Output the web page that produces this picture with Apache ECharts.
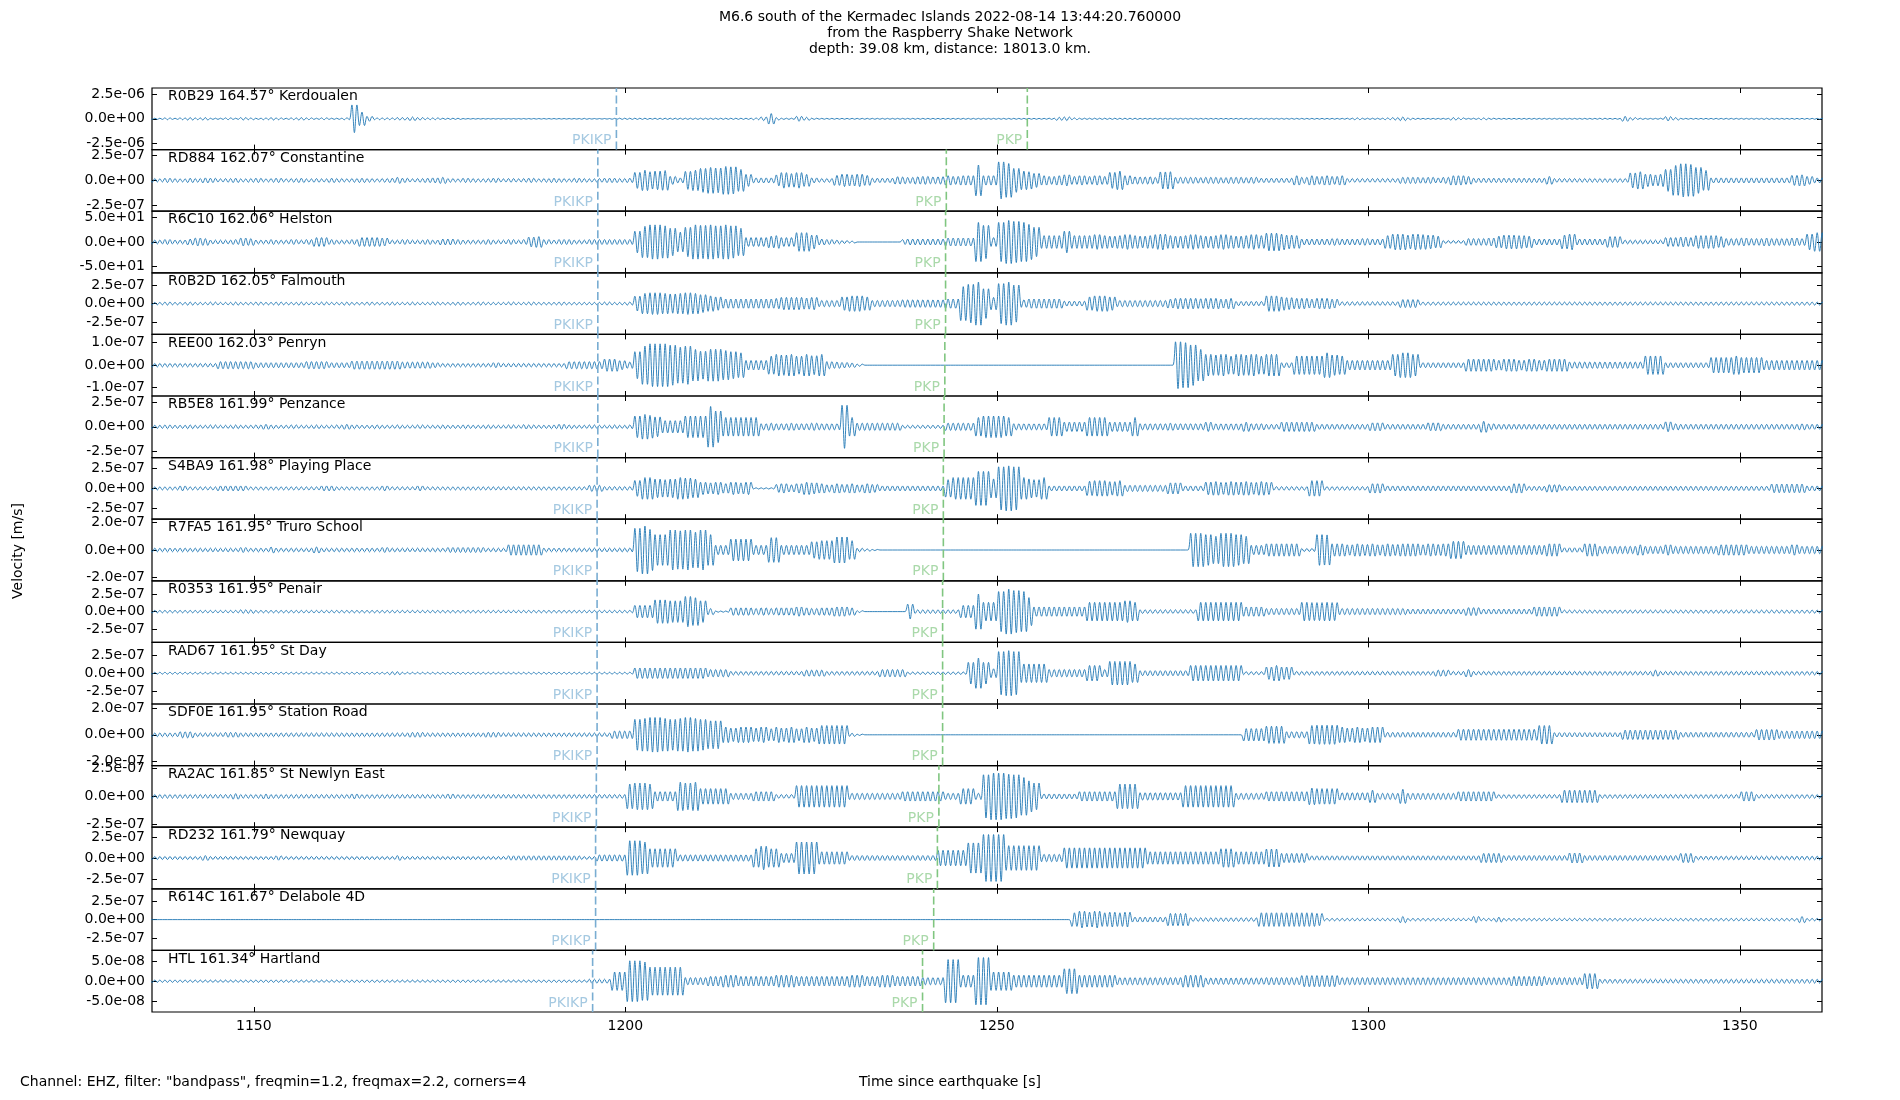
<!DOCTYPE html>
<html>
<head>
<meta charset="utf-8">
<title>M6.6 Kermadec Islands - Raspberry Shake record section</title>
<script src="https://cdn.jsdelivr.net/npm/echarts@6.0.0/dist/echarts.min.js"></script>
<style>
  html, body { margin: 0; padding: 0; background: #fff; }
  #main { width: 1900px; height: 1100px; }
</style>
</head>
<body>
<div id="main"></div>
<script>
// ---- stations, top to bottom ----
const stations = ['R0B29', 'RD884', 'R6C10', 'R0B2D', 'REE00', 'RB5E8', 'S4BA9', 'R7FA5',
                  'R0353', 'RAD67', 'SDF0E', 'RA2AC', 'RD232', 'R614C', 'HTL'];
const distances = ['164.57', '162.07', '162.06', '162.05', '162.03', '161.99', '161.98', '161.95',
                   '161.95', '161.95', '161.95', '161.85', '161.79', '161.67', '161.34'];
const places = ['Kerdoualen', 'Constantine', 'Helston', 'Falmouth', 'Penryn', 'Penzance', 'Playing Place',
                'Truro School', 'Penair', 'St Day', 'Station Road', 'St Newlyn East', 'Newquay',
                'Delabole 4D', 'Hartland'];

// y tick step (labels at -step, 0, +step) and half range of each panel
const tickSteps = [2.5e-6, 2.5e-7, 50, 2.5e-7, 1e-7, 2.5e-7, 2.5e-7, 2e-7,
                   2.5e-7, 2.5e-7, 2e-7, 2.5e-7, 2.5e-7, 2.5e-7, 5e-8];
const yLimits = [3.2e-6, 3.1e-7, 63, 4.16e-7, 1.37e-7, 3.12e-7, 3.9e-7, 2.25e-7,
                 4.4e-7, 4.2e-7, 2.3e-7, 2.78e-7, 3.68e-7, 4.17e-7, 7.7e-8];
// amplitude arrays are in nm/s, R6C10 in raw counts
const units = [1e-9, 1e-9, 1, 1e-9, 1e-9, 1e-9, 1e-9, 1e-9,
               1e-9, 1e-9, 1e-9, 1e-9, 1e-9, 1e-9, 1e-9];

// predicted arrivals [s]
const pkikp = [1198.8, 1196.3, 1196.3, 1196.3, 1196.3, 1196.3, 1196.2, 1196.2,
               1196.2, 1196.2, 1196.2, 1196.1, 1196.0, 1196.0, 1195.6];
const pkp = [1254.1, 1243.2, 1243.1, 1243.1, 1243.0, 1242.9, 1242.8, 1242.8,
             1242.7, 1242.7, 1242.7, 1242.2, 1242.0, 1241.5, 1240.0];

const xTicks = [1150, 1200, 1250, 1300, 1350];
const xMin = 1136.3, xMax = 1361.05;

// peak amplitude seen in each one second bin, first bin starts at 1136 s
const binStart = 1136;
const halfCycle = 0.34; // s between successive peaks, ~1.5 Hz (filter band 1.2-2.2 Hz)

const ampR0B29 = [
  64,64,96,64,96,128,96,128,64,64,
  96,64,128,96,64,96,128,96,64,96,
  128,96,64,96,64,64,96,1440,700,256,
  96,96,96,128,128,192,128,96,96,64,
  64,64,32,32,32,32,32,32,32,32,
  32,32,32,32,32,32,32,32,48,32,
  32,32,48,64,64,64,64,48,64,64,
  64,64,64,64,64,64,64,64,64,64,
  64,96,192,544,128,64,64,256,160,64,
  48,48,48,48,48,48,48,48,48,48,
  48,48,48,48,48,48,48,48,48,48,
  48,48,48,48,48,48,48,48,48,48,
  48,64,160,192,96,64,64,64,64,64,
  64,64,64,48,48,48,48,48,48,48,
  48,48,48,48,48,48,48,48,48,48,
  48,48,48,48,48,48,48,48,48,48,
  48,64,96,64,64,64,96,128,192,96,
  64,48,48,48,48,128,96,48,64,96,
  64,48,48,48,48,48,48,48,48,48,
  48,48,48,48,48,64,48,48,256,128,
  64,48,48,64,224,128,48,48,48,48,
  48,48,48,48,48,48,48,64,48,48,
  48,48,48,48,48,48];

const ampRD884 = [
  19,16,22,19,16,22,19,25,22,16,
  19,22,16,19,22,16,19,22,16,19,
  22,16,19,16,22,19,16,19,22,19,
  16,19,22,31,22,16,19,22,25,31,
  19,16,22,19,16,19,22,16,19,16,
  19,22,16,19,22,19,16,22,19,16,
  19,22,22,19,22,80,102,87,93,99,
  40,25,90,102,120,130,124,140,136,110,
  60,25,25,25,55,78,68,78,60,25,
  19,19,50,62,56,62,50,22,22,22,
  37,34,30,37,40,34,37,47,40,47,
  47,155,47,47,186,170,120,93,87,70,
  47,40,47,56,40,47,40,47,40,80,
  93,47,37,34,37,30,85,87,31,31,
  31,28,31,31,28,31,31,28,31,22,
  22,22,22,22,47,31,47,40,47,40,
  47,19,19,19,19,19,19,19,31,31,
  31,28,31,25,31,47,47,40,22,22,
  22,22,22,22,22,22,22,22,40,19,
  19,19,19,19,19,19,19,19,19,75,
  87,62,55,62,110,150,167,160,130,100,
  25,25,25,25,25,25,25,25,25,25,
  25,50,56,40,25,25];

const ampR6C10 = [
  4,4,5,4,4,6,8,7,4,4,
  4,5,8,7,4,4,5,4,4,5,
  4,5,9,9,5,4,4,5,9,9,
  9,8,4,4,5,4,4,5,4,6,
  6,5,4,4,4,5,4,4,5,4,
  5,10,11,5,4,5,5,4,4,5,
  5,5,5,5,5,22,32,35,35,33,
  28,20,30,35,34,35,33,35,33,28,
  9,9,9,12,13,9,9,19,19,14,
  6,5,4,3,2,0,0,0,0,0,
  0,5,6,6,6,6,6,8,8,8,
  8,40,34,9,40,44,42,40,36,30,
  13,13,13,22,13,13,13,15,13,12,
  13,15,13,12,13,15,16,13,12,13,
  15,13,12,13,15,13,12,13,15,13,
  18,18,16,14,13,6,6,6,6,7,
  6,6,6,7,6,6,13,16,16,14,
  16,15,14,12,3,3,3,7,7,7,
  8,12,14,14,13,12,6,6,6,6,
  14,16,6,6,6,6,11,11,4,4,
  4,4,4,4,9,9,10,9,13,13,
  13,11,7,7,8,7,7,8,7,7,
  7,8,7,16,19,19];

const ampR0B2D = [
  17,17,21,17,17,21,17,17,21,17,
  17,21,17,17,21,17,17,21,17,17,
  21,17,17,21,17,17,21,17,17,21,
  17,17,21,17,17,21,17,17,21,17,
  17,21,17,17,21,17,17,17,21,17,
  17,21,17,17,17,21,17,17,17,17,
  17,21,17,17,21,100,137,146,146,137,
  130,137,146,137,120,104,90,62,62,62,
  62,62,62,62,70,83,83,83,75,83,
  42,42,42,90,104,104,90,42,42,42,
  42,50,50,50,50,50,50,62,62,229,
  260,291,200,83,270,291,250,50,62,62,
  62,62,62,33,33,33,90,104,104,90,
  42,42,42,42,42,42,42,60,71,71,
  71,65,71,71,60,71,29,29,29,29,
  104,104,90,80,71,71,60,71,71,60,
  25,25,25,25,25,25,25,25,54,54,
  54,21,21,21,21,21,21,21,21,21,
  21,21,21,21,21,21,21,21,21,21,
  21,21,21,21,21,21,21,21,21,21,
  21,21,21,21,21,21,21,21,21,21,
  21,21,21,21,21,21,21,21,21,21,
  21,21,21,21,21,21];

const ampREE00 = [
  8,8,8,8,8,8,8,8,8,16,
  16,16,16,16,11,11,11,11,11,11,
  11,16,16,16,11,11,11,18,18,18,
  18,18,18,18,14,14,14,14,11,8,
  8,8,8,8,8,8,11,8,8,8,
  8,8,8,8,8,8,16,16,16,16,
  16,27,27,20,14,60,85,95,95,95,
  89,80,85,70,62,71,71,65,60,55,
  21,21,21,40,48,45,48,40,48,42,
  48,16,14,12,10,5,0,0,0,0,
  0,0,0,0,0,0,0,0,0,0,
  0,0,0,0,0,0,0,0,0,0,
  0,0,0,0,0,0,0,0,0,0,
  0,0,0,0,0,0,0,0,104,100,
  90,70,48,45,48,40,48,45,48,40,
  48,48,11,11,41,41,41,41,55,45,
  41,21,21,21,21,21,21,48,55,55,
  48,11,11,11,11,11,11,27,27,27,
  27,22,27,27,22,27,27,22,27,27,
  27,14,14,14,14,14,14,14,14,14,
  14,41,41,41,11,11,11,11,11,11,
  34,34,34,41,34,34,34,21,21,21,
  21,21,21,21,21,21];

const ampRB5E8 = [
  16,16,19,16,16,19,16,16,19,16,
  16,19,16,16,19,25,19,16,16,19,
  16,16,19,16,16,19,25,19,16,16,
  19,16,16,19,16,16,19,16,16,19,
  16,16,19,16,16,19,16,16,19,16,
  22,19,16,16,19,25,19,16,16,19,
  16,16,19,16,19,109,125,115,100,62,
  62,62,109,109,109,206,160,94,94,94,
  94,94,31,37,31,31,37,31,31,37,
  31,31,31,218,94,37,37,37,37,37,
  37,16,16,16,16,16,16,37,37,37,
  37,94,109,109,109,94,31,31,31,31,
  31,94,94,47,47,47,94,94,94,47,
  47,47,94,31,31,31,31,37,31,31,
  31,31,47,31,31,31,31,47,31,31,
  25,25,47,47,47,47,47,25,25,25,
  25,25,25,25,40,40,25,25,25,25,
  25,25,40,40,25,25,25,25,25,56,
  31,25,25,25,25,25,25,25,25,25,
  25,25,25,25,25,25,25,25,25,25,
  25,25,25,25,50,31,25,25,25,25,
  25,25,25,25,25,25,25,25,25,25,
  25,25,31,25,25,25];

const ampS4BA9 = [
  20,20,20,20,31,20,20,20,20,31,
  31,31,31,20,20,20,20,20,20,20,
  20,20,20,31,31,20,20,20,20,20,
  20,31,20,20,20,20,31,20,20,20,
  20,20,20,20,20,20,20,20,20,20,
  20,20,20,20,20,20,20,20,20,39,
  39,23,23,23,23,100,137,137,117,110,
  117,137,130,117,78,70,78,60,78,70,
  78,8,8,8,50,59,45,59,78,70,
  59,45,59,50,59,45,59,50,31,31,
  31,31,31,31,31,31,31,110,137,137,
  137,215,215,120,273,285,273,137,120,110,
  137,31,31,31,31,31,90,98,98,85,
  98,39,39,39,39,39,39,70,70,31,
  31,31,80,86,75,86,80,86,75,86,
  78,23,23,23,23,23,98,98,23,23,
  23,23,23,23,59,59,31,31,31,31,
  31,31,31,31,31,31,31,31,31,31,
  31,31,31,59,59,27,27,27,47,47,
  27,27,27,27,27,27,27,27,27,27,
  27,27,27,27,27,27,27,27,27,27,
  27,27,27,27,27,27,27,27,55,55,
  55,55,55,31,31,31];

const ampR7FA5 = [
  14,13,14,13,14,13,14,13,14,13,
  14,13,18,13,14,13,22,14,13,14,
  13,14,22,14,13,14,13,14,13,14,
  13,18,14,13,14,13,14,13,14,13,
  18,18,18,18,18,13,14,13,38,38,
  38,38,38,14,13,14,13,14,13,14,
  13,14,13,14,14,158,175,150,112,112,
  146,140,146,130,146,112,34,34,79,79,
  79,34,34,90,90,34,34,34,34,60,
  68,68,95,95,68,13,8,4,0,0,
  0,0,0,0,0,0,0,0,0,0,
  0,0,0,0,0,0,0,0,0,0,
  0,0,0,0,0,0,0,0,0,0,
  0,0,0,0,0,0,0,0,0,0,
  122,122,112,100,122,122,112,100,34,34,
  45,45,45,45,45,11,11,112,110,45,
  45,38,45,40,45,38,45,40,45,45,
  45,38,45,40,45,63,63,34,34,34,
  34,34,34,34,34,34,34,34,45,45,
  16,16,16,45,45,27,27,27,27,27,
  38,27,27,27,38,27,27,27,27,27,
  27,38,38,38,38,27,27,27,27,27,
  27,38,27,27,27,27];

const ampR0353 = [
  18,18,18,18,18,18,18,18,18,18,
  18,18,26,26,18,18,18,18,18,18,
  18,18,18,18,18,18,18,18,18,18,
  18,18,18,18,18,18,18,18,18,18,
  18,18,18,18,18,18,18,18,18,18,
  18,18,18,18,18,18,18,18,18,18,
  18,18,18,18,18,88,88,88,167,167,
  154,154,216,198,154,44,9,9,53,53,
  53,45,53,45,53,53,53,66,53,45,
  53,53,66,66,53,13,0,0,0,0,
  0,0,106,26,26,26,26,26,26,88,
  88,251,132,132,286,321,300,286,200,66,
  66,66,66,66,66,66,132,132,132,132,
  132,154,132,26,26,26,26,26,26,26,
  26,132,132,132,132,132,132,66,66,66,
  44,44,44,44,44,132,128,128,132,128,
  44,44,44,44,44,44,44,44,44,35,
  35,35,35,35,35,35,35,57,57,35,
  35,35,35,35,35,35,66,66,66,66,
  22,22,22,22,22,22,22,22,22,22,
  22,22,22,22,22,22,22,22,22,22,
  22,22,22,22,22,22,22,22,22,22,
  22,22,22,22,22,22];

const ampRAD67 = [
  13,13,13,13,13,13,13,13,13,13,
  13,13,13,13,13,13,13,13,13,13,
  13,13,13,13,13,13,13,13,13,13,
  13,13,21,21,13,13,13,13,13,13,
  13,13,13,13,13,13,13,13,13,13,
  13,13,13,13,13,13,13,13,13,13,
  13,13,13,13,13,71,71,71,71,71,
  71,71,71,71,71,50,50,50,25,25,
  25,25,25,25,25,25,25,25,42,42,
  42,25,25,25,25,25,25,25,50,50,
  50,50,17,17,17,17,17,17,17,17,
  147,206,147,60,294,307,294,126,126,126,
  126,50,50,50,50,50,105,105,50,160,
  160,160,126,34,34,34,34,34,34,34,
  105,105,105,105,105,105,105,21,21,21,
  84,105,84,84,25,25,25,25,25,25,
  25,25,25,25,25,25,25,25,25,25,
  25,25,25,42,42,25,25,50,25,25,
  25,25,25,25,25,25,25,25,25,25,
  25,25,25,25,25,25,25,25,25,25,
  25,25,42,25,25,25,25,25,25,25,
  25,25,25,25,25,25,25,25,25,25,
  25,25,25,25,25,25];

const ampSDF0E = [
  14,14,14,14,23,23,14,14,14,14,
  18,18,14,14,14,14,14,14,14,14,
  14,14,14,14,14,14,14,14,14,14,
  14,14,14,14,14,18,18,14,14,14,
  14,14,14,14,14,18,18,14,14,14,
  14,14,14,14,14,14,14,14,14,14,
  14,14,28,28,28,115,122,129,129,122,
  115,122,129,122,115,104,104,58,50,58,
  58,50,58,45,58,50,58,45,58,50,
  69,69,69,69,12,5,0,0,0,0,
  0,0,0,0,0,0,0,0,0,0,
  0,0,0,0,0,0,0,0,0,0,
  0,0,0,0,0,0,0,0,0,0,
  0,0,0,0,0,0,0,0,0,0,
  0,0,0,0,0,0,0,46,46,46,
  64,64,64,23,23,23,69,71,71,71,
  58,50,58,50,58,58,18,18,18,18,
  18,18,18,18,18,18,41,41,41,41,
  41,41,41,41,41,41,41,69,69,16,
  16,16,16,16,16,16,16,16,35,35,
  35,35,35,35,35,35,18,18,18,18,
  18,18,18,18,18,18,39,39,39,28,
  28,28,28,28,28,28];

const ampRA2AC = [
  17,17,17,17,17,17,17,17,17,17,
  17,25,17,17,17,22,17,17,17,17,
  17,17,17,17,17,17,17,22,17,17,
  17,17,17,17,17,17,17,17,17,17,
  22,17,17,17,17,17,17,17,17,17,
  17,17,17,17,17,17,17,17,17,17,
  17,17,17,17,111,120,120,111,42,42,
  42,128,120,128,70,70,70,70,28,28,
  28,42,42,42,17,17,17,97,97,97,
  97,97,97,97,28,28,28,28,28,28,
  28,42,42,42,42,42,42,28,28,70,
  70,28,195,211,211,200,195,170,140,120,
  22,22,22,22,22,42,42,42,42,42,
  111,111,111,33,33,33,33,33,33,97,
  97,97,97,97,97,97,28,28,28,28,
  42,42,42,42,42,42,75,70,70,70,
  33,33,33,33,56,28,28,28,64,28,
  28,28,28,28,28,28,42,42,42,42,
  42,17,17,17,17,17,17,17,17,17,
  56,56,56,56,56,17,17,17,17,17,
  17,17,17,17,17,17,17,17,17,17,
  17,17,17,17,42,42,17,17,17,17,
  17,17,17,17,17,17];

const ampRD232 = [
  18,18,18,18,18,18,18,29,18,18,
  18,18,18,18,18,18,18,26,18,18,
  18,18,18,18,18,18,18,18,18,18,
  18,18,18,29,18,18,18,18,18,18,
  18,18,18,18,18,18,18,18,26,26,
  26,26,26,26,26,26,26,26,18,18,
  37,37,37,37,206,206,190,110,110,110,
  110,37,37,37,37,37,37,37,37,37,
  37,110,140,110,110,55,55,191,191,191,
  74,74,74,74,29,29,29,29,29,29,
  29,29,29,29,29,29,92,92,92,92,
  180,180,280,280,280,147,147,147,147,147,
  44,44,44,121,121,121,121,121,121,121,
  121,121,121,121,74,74,74,74,74,74,
  74,74,74,74,110,110,74,74,74,74,
  107,107,55,55,55,55,26,26,26,26,
  26,26,26,26,26,26,26,26,26,26,
  26,26,26,26,26,26,26,26,26,55,
  55,55,29,29,29,29,29,29,29,29,
  29,59,59,29,29,29,29,29,29,29,
  29,29,29,29,29,29,55,55,22,22,
  22,22,22,22,22,22,22,22,22,22,
  22,22,22,22,22,22];

const ampR614C = [
  0,0,0,0,0,0,0,0,0,0,
  0,0,0,0,0,0,0,0,0,0,
  0,0,0,0,0,0,0,0,0,0,
  0,0,0,0,0,0,0,0,0,0,
  0,0,0,0,0,0,0,0,0,0,
  0,0,0,0,0,0,0,0,0,0,
  0,0,0,0,0,0,0,0,0,0,
  0,0,0,0,0,0,0,0,0,0,
  0,0,0,0,0,0,0,0,0,0,
  0,0,0,0,0,0,0,0,0,0,
  0,0,0,0,0,0,0,0,0,0,
  0,0,0,0,0,0,0,0,0,0,
  0,0,0,0,92,113,100,113,92,100,
  92,100,33,33,33,33,33,83,83,83,
  25,25,25,25,25,25,25,25,25,92,
  92,92,92,92,92,92,92,83,17,17,
  17,17,17,17,17,17,17,17,42,17,
  17,17,17,17,17,17,17,17,42,17,
  17,33,17,17,17,17,17,17,17,17,
  17,17,17,17,17,17,17,17,17,17,
  17,17,17,17,17,17,17,17,17,17,
  17,17,17,17,17,17,17,17,17,17,
  17,17,42,17,17,17];

const ampHTL = [
  3,3,3,3,3,3,3,3,3,3,
  3,3,3,3,3,3,3,3,3,3,
  3,3,3,3,3,3,3,3,3,3,
  3,3,3,3,3,3,3,3,3,3,
  3,3,3,3,3,3,3,3,3,3,
  3,3,3,3,3,3,3,3,3,5,
  5,5,23,23,51,51,48,35,35,35,
  35,35,9,9,9,12,12,15,15,12,
  12,12,12,12,15,15,15,12,12,12,
  12,12,12,12,15,15,12,12,15,15,
  12,12,12,12,9,9,9,54,54,15,
  15,59,59,23,23,23,15,15,15,15,
  15,15,15,31,31,15,15,15,15,15,
  9,9,9,9,9,9,9,9,9,15,
  15,15,8,8,8,8,8,8,8,8,
  9,9,9,9,9,14,14,14,14,14,
  9,9,9,9,9,9,9,9,9,9,
  9,9,9,9,9,9,9,9,9,9,
  9,9,9,12,12,12,12,12,9,9,
  9,9,9,19,19,5,5,5,5,5,
  5,5,5,5,5,5,5,5,5,5,
  5,5,5,5,5,5,5,5,5,5,
  5,5,5,5,5,5];

const amplitudes = [ampR0B29, ampRD884, ampR6C10, ampR0B2D, ampREE00, ampRB5E8, ampS4BA9, ampR7FA5,
                    ampR0353, ampRAD67, ampSDF0E, ampRA2AC, ampRD232, ampR614C, ampHTL];

const titleLines = ['M6.6 south of the Kermadec Islands 2022-08-14 13:44:20.760000',
                    'from the Raspberry Shake Network',
                    'depth: 39.08 km, distance: 18013.0 km.'];

// ---- layout ----
const FONT = '"DejaVu Sans", "Liberation Sans", sans-serif';
const plotLeft = 152, plotWidth = 1670;
const plotTop = 88, panelH = 61.6;
const traceColor = '#1f77b4';
const pkikpLine = '#79add2', pkikpText = '#8fbbd9';
const pkpLine = '#80c680', pkpText = '#95cf95';

// alternating peaks, each one carrying the amplitude of its one second bin
function trace(amp, unit) {
  const pts = [];
  for (let k = 0; ; k++) {
    const t = binStart + k * halfCycle;
    const bin = Math.floor(t - binStart);
    if (bin >= amp.length) break;
    pts.push([t, (k % 2 ? -1 : 1) * amp[bin] * unit]);
  }
  return pts;
}

function sci(v) {
  const parts = v.toExponential(1).split('e');
  const n = parseInt(parts[1], 10);
  return parts[0] + 'e' + (n < 0 ? '-' : '+') + String(Math.abs(n)).padStart(2, '0');
}

const grid = [], xAxis = [], yAxis = [], series = [], graphic = [];

stations.forEach(function (st, i) {
  const top = plotTop + i * panelH;
  const lim = yLimits[i];
  const step = tickSteps[i];
  const yTicks = [-step, 0, step];

  grid.push({
    left: plotLeft, top: top, width: plotWidth, height: panelH,
    show: true, borderColor: '#000', borderWidth: 1.2, backgroundColor: 'transparent'
  });

  ['bottom', 'top'].forEach(function (pos) {
    xAxis.push({
      gridIndex: i, type: 'value', position: pos, min: xMin, max: xMax,
      axisLine: { show: false, onZero: false }, splitLine: { show: false },
      axisTick: { show: true, inside: true, length: 5, customValues: xTicks,
                  lineStyle: { color: '#000', width: 1 } },
      axisLabel: { show: pos === 'bottom' && i === stations.length - 1, customValues: xTicks,
                   formatter: function (v) { return String(v); },
                   margin: 7, fontSize: 14, color: '#000', fontFamily: FONT }
    });
  });
  ['left', 'right'].forEach(function (pos) {
    yAxis.push({
      gridIndex: i, type: 'value', position: pos, min: -lim, max: lim,
      axisLine: { show: false, onZero: false }, splitLine: { show: false },
      axisTick: { show: true, inside: true, length: 5, customValues: yTicks,
                  lineStyle: { color: '#000', width: 1 } },
      axisLabel: { show: pos === 'left', customValues: yTicks, formatter: sci,
                   margin: 7, fontSize: 14, color: '#000', fontFamily: FONT }
    });
  });

  const xi = 2 * i, yi = 2 * i;
  series.push({
    type: 'line', xAxisIndex: xi, yAxisIndex: yi,
    data: trace(amplitudes[i], units[i]),
    symbol: 'none', smooth: 0.35, clip: true,
    lineStyle: { color: traceColor, width: 0.9 }, z: 3
  });
  [[pkikp[i], pkikpLine, pkikpText, 'PKIKP'], [pkp[i], pkpLine, pkpText, 'PKP']].forEach(function (ph) {
    series.push({
      type: 'line', xAxisIndex: xi, yAxisIndex: yi,
      data: [[ph[0], -lim], [ph[0], lim]],
      symbol: 'none', lineStyle: { color: ph[1], width: 1.6, type: [8, 3.5] }, z: 4
    });
    series.push({
      type: 'scatter', xAxisIndex: xi, yAxisIndex: yi, clip: false,
      data: [[ph[0], -lim]], symbolSize: 0, silent: true, z: 5,
      label: { show: true, formatter: ph[3], position: [-5, -2], align: 'right', verticalAlign: 'bottom',
               color: ph[2], fontSize: 14, fontFamily: FONT }
    });
  });

  graphic.push({
    type: 'text', x: 168, y: top + 8.5, z: 10,
    style: { text: st + ' ' + distances[i] + '\u00b0 ' + places[i], fill: '#000', font: '14px ' + FONT,
             align: 'left', verticalAlign: 'middle', textAlign: 'left', textVerticalAlign: 'middle' }
  });
});

titleLines.forEach(function (line, k) {
  graphic.push({
    type: 'text', x: 950, y: 17 + 16 * k,
    style: { text: line, fill: '#000', font: '14px ' + FONT,
             align: 'center', verticalAlign: 'middle', textAlign: 'center', textVerticalAlign: 'middle' }
  });
});
graphic.push({
  type: 'text', x: 18, y: 551, rotation: Math.PI / 2,
  style: { text: 'Velocity [m/s]', fill: '#000', font: '14px ' + FONT,
           align: 'center', verticalAlign: 'middle', textAlign: 'center', textVerticalAlign: 'middle' }
});
graphic.push({
  type: 'text', x: 20, y: 1082,
  style: { text: 'Channel: EHZ, filter: "bandpass", freqmin=1.2, freqmax=2.2, corners=4', fill: '#000',
           font: '14px ' + FONT, align: 'left', verticalAlign: 'middle', textAlign: 'left', textVerticalAlign: 'middle' }
});
graphic.push({
  type: 'text', x: 950, y: 1082,
  style: { text: 'Time since earthquake [s]', fill: '#000', font: '14px ' + FONT,
           align: 'center', verticalAlign: 'middle', textAlign: 'center', textVerticalAlign: 'middle' }
});

const chart = echarts.init(document.getElementById('main'), null, { renderer: 'canvas' });
chart.setOption({
  backgroundColor: '#fff',
  animation: false,
  textStyle: { fontFamily: FONT },
  grid: grid,
  xAxis: xAxis,
  yAxis: yAxis,
  series: series,
  graphic: graphic
});
</script>
</body>
</html>
